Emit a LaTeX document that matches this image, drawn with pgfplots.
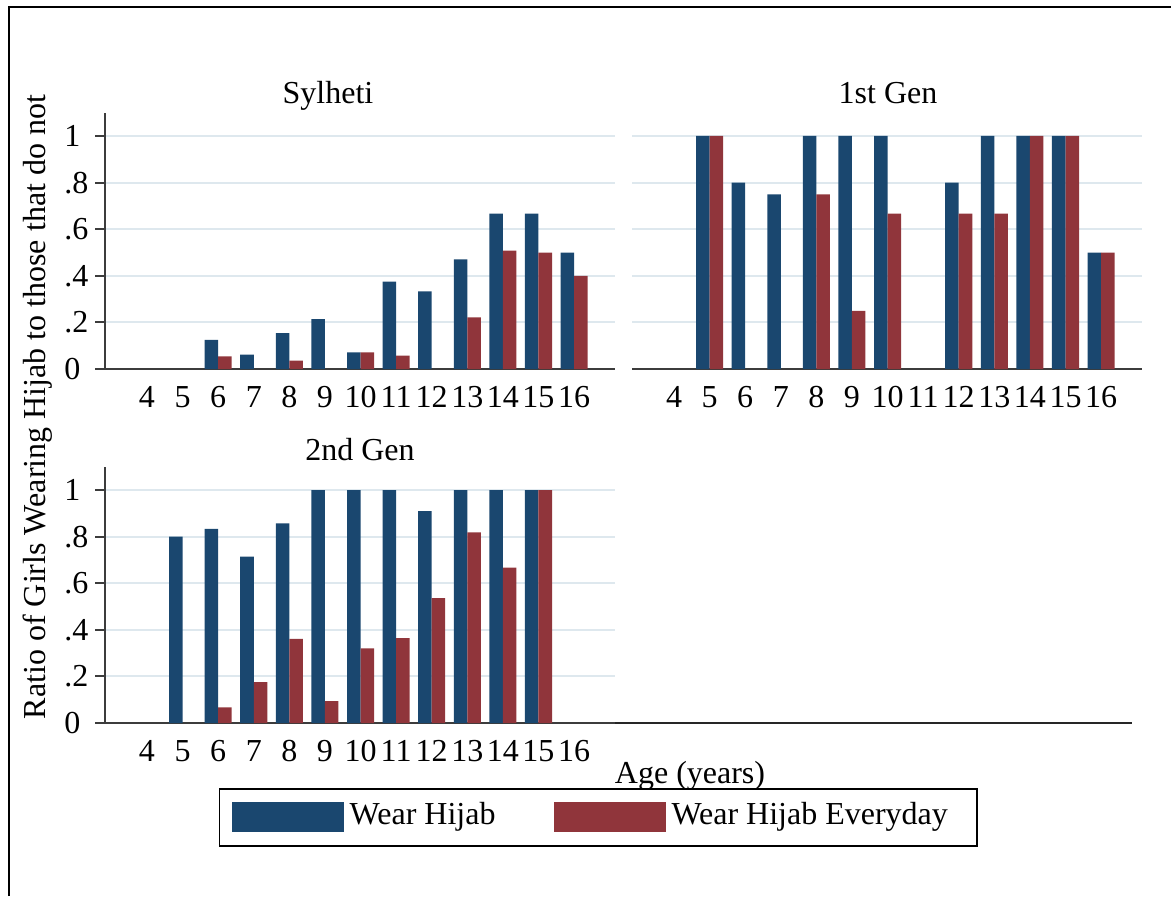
\documentclass[border=0pt]{standalone}
\usepackage{fontspec}
\setmainfont{Liberation Serif}
\usepackage{pgfplots}
\pgfplotsset{compat=1.18}
\definecolor{stnavy}{RGB}{26,71,111}
\definecolor{stmaroon}{RGB}{144,53,59}
\definecolor{gridc}{RGB}{222,232,238}
\definecolor{axisc}{RGB}{60,60,60}
\newcommand\fs{\fontsize{16}{19}\selectfont}
\pgfplotsset{
  panel/.style={
    scale only axis, width=255pt, height=128.15pt,
    xmin=2.82, xmax=17.15, ymin=0, ymax=1.1,
    axis x line*=bottom, axis y line*=left,
    axis line style={axisc, line width=1pt, -},
    xtick={4,5,6,7,8,9,10,11,12,13,14,15,16},
    xticklabels={4,5,6,7,8,9,10,11,12,13,14,15,16},
    xtick style={draw=none},
    ytick={0,0.2,0.4,0.6,0.8,1},
    yticklabels={0,.2,.4,.6,.8,1},
    ytick style={axisc, line width=1pt},
    tick align=outside, major tick length=5pt,
    ymajorgrids, grid style={gridc, line width=1pt},
    ybar, bar width=0.38,
    ticklabel style={font=\fs},
    yticklabel style={anchor=west, inner sep=0pt, xshift=-15.5pt},
    /pgf/number format/assume math mode=true,
  },
  blue/.style={fill=stnavy, draw=none, bar shift=-0.19},
  red/.style={fill=stmaroon, draw=none, bar shift=0.19},
}
\begin{document}
\begin{tikzpicture}
\useasboundingbox (0,0) rectangle (585.5pt,448pt);
\draw[black, line width=1pt] (4.5pt,0) -- (4.5pt,444.5pt) -- (586pt,444.5pt);

% Sylheti
\begin{axis}[panel, at={(52.5pt,263.5pt)}, anchor=south west]
\addplot[blue] coordinates {(6,0.125) (7,0.062) (8,0.154) (9,0.214) (10,0.071) (11,0.375) (12,0.333) (13,0.47) (14,0.667) (15,0.667) (16,0.5)};
\addplot[red] coordinates {(6,0.054) (8,0.036) (10,0.071) (11,0.057) (13,0.222) (14,0.508) (15,0.5) (16,0.4)};
\end{axis}

% 1st Gen
\begin{axis}[panel, at={(316pt,263.5pt)}, anchor=south west,
  y axis line style={draw=none}, yticklabels={}, ytick style={draw=none}]
\addplot[blue] coordinates {(5,1) (6,0.8) (7,0.75) (8,1) (9,1) (10,1) (12,0.8) (13,1) (14,1) (15,1) (16,0.5)};
\addplot[red] coordinates {(5,1) (8,0.75) (9,0.25) (10,0.667) (12,0.667) (13,0.667) (14,1) (15,1) (16,0.5)};
\end{axis}

% 2nd Gen
\begin{axis}[panel, at={(52.5pt,86.5pt)}, anchor=south west,
  legend columns=2, legend cell align=left,
  legend style={at={(0.2235,-0.2536)}, anchor=north west, draw=black, line width=0.75pt,
    inner xsep=6pt, inner ysep=6.75pt, column sep=3pt,
    nodes={inner sep=0pt, font=\fs, text height=11pt, text depth=3.5pt},
    /tikz/every even column/.append style={column sep=29pt}}]
\addplot[blue, legend image code/.code={\fill[stnavy] (0pt,-7.5pt) rectangle (56pt,7.5pt);}] coordinates {(5,0.8) (6,0.833) (7,0.714) (8,0.857) (9,1) (10,1) (11,1) (12,0.909) (13,1) (14,1) (15,1)};
\addlegendentry{Wear Hijab}
\addplot[red, legend image code/.code={\fill[stmaroon] (0pt,-7.5pt) rectangle (56pt,7.5pt);}] coordinates {(6,0.067) (7,0.176) (8,0.361) (9,0.094) (10,0.32) (11,0.364) (12,0.536) (13,0.818) (14,0.667) (15,1)};
\addlegendentry{Wear Hijab Everyday\hspace*{8.5pt}}
\end{axis}

\draw[black!85, line width=1pt] (307.5pt,86.5pt) -- (566pt,86.5pt);

\node[font=\fs, anchor=base] at (164pt,396pt) {Sylheti};
\node[font=\fs, anchor=base] at (444pt,396pt) {1st Gen};
\node[font=\fs, anchor=base] at (180pt,218pt) {2nd Gen};
\node[font=\fs, anchor=base] at (345pt,56.5pt) {Age (years)};
\node[font=\fs, rotate=90] at (19pt,244.5pt) {Ratio of Girls Wearing Hijab to those that do not};
\end{tikzpicture}
\end{document}
